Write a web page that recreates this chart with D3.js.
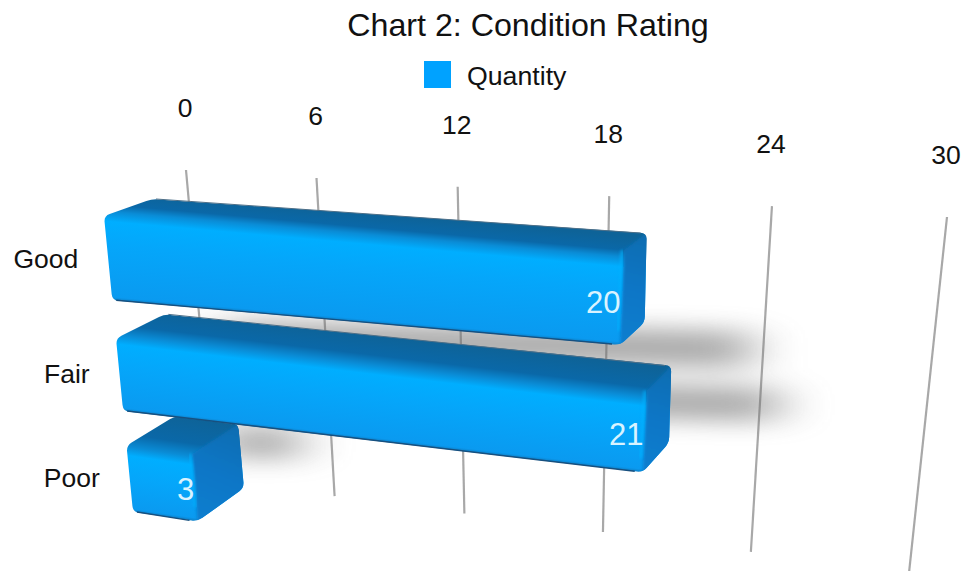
<!DOCTYPE html>
<html>
<head>
<meta charset="utf-8">
<script src="https://cdn.jsdelivr.net/npm/d3@7/dist/d3.min.js"></script>
<style>
html,body{margin:0;padding:0;background:#fff;overflow:hidden}
text{font-family:"Liberation Sans",Arial,sans-serif}
</style>
</head>
<body>
<svg id="chart" width="965" height="571"></svg>
<script>
const chartTitle = "Chart 2: Condition Rating";
const seriesName = "Quantity";
const categories = ["Good", "Fair", "Poor"];
const quantities = [20, 21, 3];
const axisTicks = [0, 6, 12, 18, 24, 30];

const svg = d3.select("#chart");
const defs = svg.append("defs");

// Perspective map of the unit square on four screen corners
function homography(p00, p10, p11, p01) {
  const dx1 = p10[0]-p11[0], dx2 = p01[0]-p11[0], sx = p00[0]-p10[0]+p11[0]-p01[0];
  const dy1 = p10[1]-p11[1], dy2 = p01[1]-p11[1], sy = p00[1]-p10[1]+p11[1]-p01[1];
  const det = dx1*dy2-dx2*dy1;
  const g = (sx*dy2-dx2*sy)/det, h = (dx1*sy-sx*dy1)/det;
  const a = p10[0]-p00[0]+g*p10[0], b = p01[0]-p00[0]+h*p01[0];
  const d = p10[1]-p00[1]+g*p10[1], e = p01[1]-p00[1]+h*p01[1];
  return (u, t) => {
    const w = g*u+h*t+1;
    return [(a*u+b*t+p00[0])/w, (d*u+e*t+p00[1])/w];
  };
}

// Scales: value to depth along the plane, category to band across it
const uBar = d3.scaleLinear().domain([0, 21]).range([0, 1]);
const uGrid = d3.scalePow().exponent(1.012).domain([0, 30]).range([0, 1]);
const band = d3.scaleBand().domain(categories).range([0, 1]).paddingInner(1/3);
const warp = d3.scalePow().exponent(0.95).domain([0, 1]).range([0, 1]);

const front = homography([104,216],[654,252],[637,585],[133,512]);
const back  = homography([152,199],[675,235],[666,550],[182,479]);
const shade = homography([222,320],[778,331],[778,474],[222,458]);
const grid  = homography([186,170],[947,217],[909,573],[214,480]);

const F = (v,t) => front(uBar(v), warp(t));
const B = (v,t) => back(uBar(v), warp(t));
const S = (v,t) => shade(uBar(v), warp(t));
const G = (v,t) => grid(uGrid(v), t);

// Filters
const fShadow = defs.append("filter").attr("id","shadowBlur")
  .attr("filterUnits","userSpaceOnUse").attr("x",0).attr("y",150).attr("width",965).attr("height",421);
fShadow.append("feGaussianBlur").attr("stdDeviation","26 11");
const fSoft = defs.append("filter").attr("id","soft")
  .attr("x","-20%").attr("y","-20%").attr("width","140%").attr("height","140%");
fSoft.append("feGaussianBlur").attr("stdDeviation",1.6);

// Title and legend
svg.append("text").attr("x",528).attr("y",36).attr("text-anchor","middle")
  .attr("font-size",32.2).attr("fill","#111").text(chartTitle);
svg.append("rect").attr("x",424).attr("y",61).attr("width",27).attr("height",27).attr("fill","#00a2ff");
svg.append("text").attr("x",467).attr("y",85).attr("font-size",26.7).attr("fill","#111").text(seriesName);

// Grid lines and tick labels
const gridG = svg.append("g");
axisTicks.forEach(v => {
  const a = G(v,0), b = G(v,1);
  gridG.append("line").attr("x1",a[0]).attr("y1",a[1]).attr("x2",b[0]).attr("y2",b[1])
    .attr("stroke","#a8a8a8").attr("stroke-width",2.2);
  gridG.append("text").attr("x",a[0]-1).attr("y",a[1]-53).attr("text-anchor","middle")
    .attr("font-size",26.5).attr("fill","#111").text(v);
});

// Shadows cast behind the bars
const shadowG = svg.append("g").attr("filter","url(#shadowBlur)").attr("opacity",0.56);
categories.forEach((c,i) => {
  const t0 = band(c), t1 = t0+band.bandwidth(), v = quantities[i];
  shadowG.append("path")
    .attr("d", d3.line()([S(0,t0),S(v,t0),S(v,t1),S(0,t1)])+"Z")
    .attr("fill","#6e6e6e");
});

function roundPoly(pts, r) {
  const n = pts.length; let d = "";
  pts.forEach((p,i) => {
    const a = pts[(i+n-1)%n], b = pts[(i+1)%n];
    const la = Math.hypot(a[0]-p[0],a[1]-p[1]), lb = Math.hypot(b[0]-p[0],b[1]-p[1]);
    const ra = Math.min(r,la/2), rb = Math.min(r,lb/2);
    const s = [p[0]+(a[0]-p[0])*ra/la, p[1]+(a[1]-p[1])*ra/la];
    const e = [p[0]+(b[0]-p[0])*rb/lb, p[1]+(b[1]-p[1])*rb/lb];
    d += (i?"L":"M")+s[0]+","+s[1]+"Q"+p[0]+","+p[1]+" "+e[0]+","+e[1];
  });
  return d+"Z";
}

// Bars, far row last so upper rows overlap lower ones
const barsG = svg.append("g");
d3.range(categories.length).reverse().forEach(i => {
  const c = categories[i], v = quantities[i];
  const t0 = band(c), t1 = t0+band.bandwidth();
  const fTL=F(0,t0), fTR=F(v,t0), fBR=F(v,t1), fBL=F(0,t1);
  const bTL=B(0,t0), bTR=B(v,t0), bBR=B(v,t1);
  const outline = roundPoly([bTL,bTR,bBR,fBR,fBL,fTL], 6);

  // gradient runs across the bar, normal to its long edge
  const ex=fBR[0]-fBL[0], ey=fBR[1]-fBL[1], el=Math.hypot(ex,ey);
  const nx=-ey/el, ny=ex/el;
  const mid=(p,q)=>[(p[0]+q[0])/2,(p[1]+q[1])/2];
  const start=mid(bTL,bTR), crease=mid(fTL,fTR), end=mid(fBL,fBR);
  const proj=p=>(p[0]-start[0])*nx+(p[1]-start[1])*ny;
  const len=proj(end), o=proj(crease)/len;
  const id="barGrad"+i;
  const lg=defs.append("linearGradient").attr("id",id).attr("gradientUnits","userSpaceOnUse")
    .attr("x1",start[0]).attr("y1",start[1]).attr("x2",start[0]+nx*len).attr("y2",start[1]+ny*len);
  [[0,"#0e6398"],[o*0.7,"#0a68a8"],[o*1.05,"#0a8cd6"],[o+0.1,"#00aeff"],[o+0.32,"#05a6fa"],[0.97,"#0a9af0"],[1,"#0d80c8"]]
    .forEach(s=>lg.append("stop").attr("offset",Math.min(1,s[0])).attr("stop-color",s[1]));

  const clipId="barClip"+i;
  defs.append("clipPath").attr("id",clipId).append("path").attr("d",outline);

  const g=barsG.append("g");
  g.append("path").attr("d",outline).attr("fill","url(#"+id+")");

  const inner=g.append("g").attr("clip-path","url(#"+clipId+")");
  // end cap
  const capId="capGrad"+i;
  const cg=defs.append("linearGradient").attr("id",capId).attr("gradientUnits","userSpaceOnUse")
    .attr("x1",bTR[0]).attr("y1",bTR[1]).attr("x2",fBR[0]).attr("y2",fBR[1]);
  [[0,"#0b6cb0"],[0.5,"#0a76c6"],[1,"#0a7ecf"]].forEach(s=>cg.append("stop").attr("offset",s[0]).attr("stop-color",s[1]));
  inner.append("path").attr("filter","url(#soft)")
    .attr("d",d3.line()([[fTR[0],fTR[1]],bTR,[bTR[0]+20,bTR[1]],[bBR[0]+20,bBR[1]+20],[fBR[0]+10,fBR[1]+20],fBR])+"Z")
    .attr("fill","url(#"+capId+")");
  // highlight along the crease
  inner.append("line").attr("filter","url(#soft)")
    .attr("x1",fTR[0]-2).attr("y1",fTR[1]).attr("x2",fBR[0]-2).attr("y2",fBR[1]-14)
    .attr("stroke","#00b2ff").attr("stroke-width",2.5).attr("opacity",0.8);

  // thin edges at the top and along the bottom
  g.append("line").attr("x1",fBL[0]+4).attr("y1",fBL[1]).attr("x2",fBR[0]-8).attr("y2",fBR[1]-1)
    .attr("stroke","#17507f").attr("stroke-width",1.4);
  g.append("line").attr("x1",bTL[0]+4).attr("y1",bTL[1]).attr("x2",bTR[0]-6).attr("y2",bTR[1])
    .attr("stroke","#4d6f88").attr("stroke-width",1);

  // data label
  const lp=F(v-0.04,t0+band.bandwidth()*0.55);
  barsG.append("text").attr("x",lp[0]).attr("y",lp[1]+9).attr("text-anchor","end")
    .attr("font-size",31).attr("fill","#d9f3ff").text(v);

  // category label
  const cp=F(0,t0+band.bandwidth()*0.5);
  svg.append("text").attr("x",cp[0]-30).attr("y",cp[1]+8).attr("text-anchor","end")
    .attr("font-size",26.5).attr("fill","#111").text(c);
});
</script>
</body>
</html>
